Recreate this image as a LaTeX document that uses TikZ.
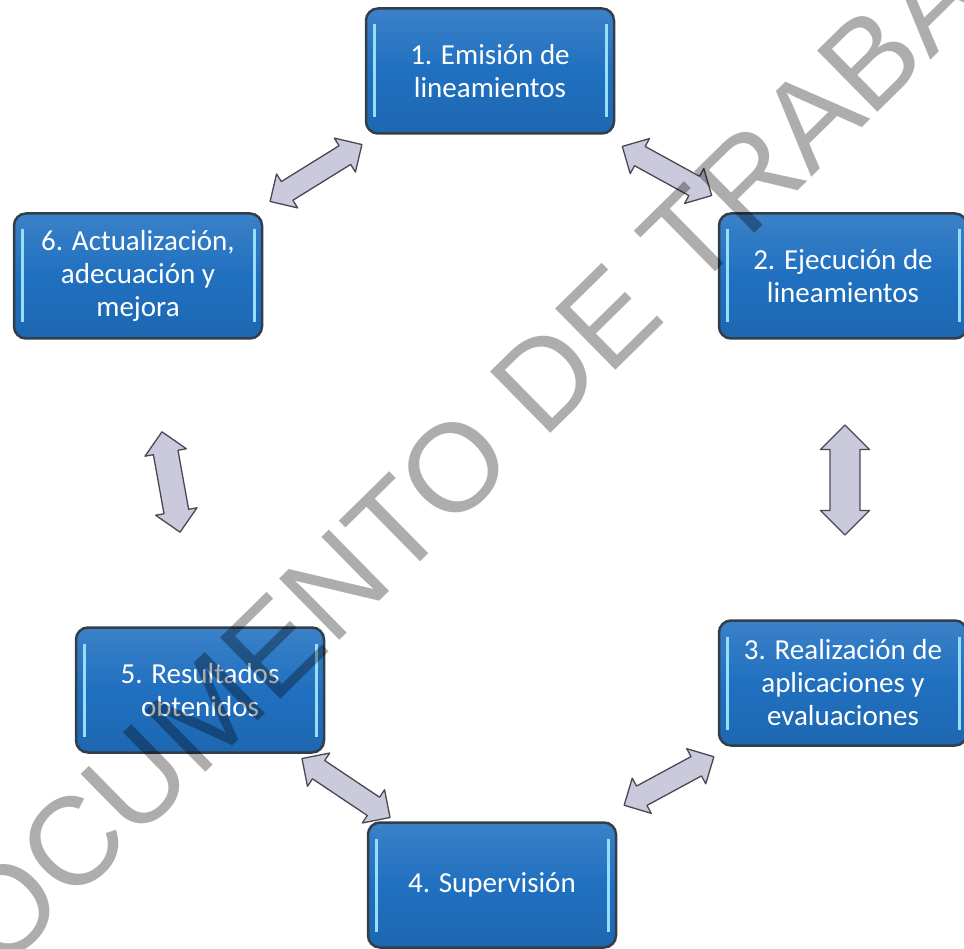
\documentclass[tikz,border=0pt]{standalone}
\usepackage{fontspec}
\setmainfont{Carlito}
\newfontfamily\markfont{Liberation Sans}
\usepackage{tikz}
\usetikzlibrary{calc}
\definecolor{boxblue}{RGB}{32,112,192}
\definecolor{boxedge}{RGB}{50,62,74}
\definecolor{boxstrip}{RGB}{150,222,250}
\definecolor{arrowfill}{RGB}{202,202,220}
\definecolor{arrowedge}{RGB}{72,72,84}
\tikzset{stage box/.style={
  draw=boxedge,
  line width=2.5,
  rounded corners=12,
  top color=boxblue!88!white,
  bottom color=boxblue!92!black,
  middle color=boxblue,
  text=white,
  align=center,
  minimum width=248,
  minimum height=125,
  font=\fontsize{29}{33}\selectfont,
  path picture={
    \draw[boxstrip,line width=3]
      ([xshift=8,yshift=-16]path picture bounding box.north west) --
      ([xshift=8,yshift=16]path picture bounding box.south west);
    \draw[boxstrip,line width=3]
      ([xshift=-8,yshift=-16]path picture bounding box.north east) --
      ([xshift=-8,yshift=16]path picture bounding box.south east);
    }
  }
}
\tikzset{duo arrow/.style={
  fill=arrowfill,
  draw=arrowedge,
  line width=1.3,
  line join=round
  }
}
\begin{document}
\begin{tikzpicture}[x=1pt,y=-1pt]
    \useasboundingbox (0,0) rectangle (964,949);
    \clip (0,0) rectangle (964,949);

    % the six stages
    \foreach \x/\y/\t [count=\n] in {490/71/{1. Emisión de\\lineamientos},
        843/276/{2. Ejecución de\\lineamientos},
        843/683/{3. Realización de\\aplicaciones y\\evaluaciones},
        492/885/{4. Supervisión},
        200/690/{5. Resultados\\obtenidos},
        138/276/{6. Actualización,\\adecuación y\\mejora}}
        \node[stage box] (S\n) at (\x,\y) {\t};

    % double arrows between the stages: centre, angle, length, head, shaft
    \foreach \cx/\cy/\ang/\len/\hb/\sw in {316/173/31.8/108/40/22,
        667/171/-28.8/102/40/22,
        845/480/90/110/49/30,
        669/781/28.4/102/40/22,
        346/788/-33.8/106/40/22,
        171/482/100.2/102/42/25}
        \draw[duo arrow,shift={(\cx,\cy)},rotate=\ang]
            (-\len/2,0) -- (-\len/2+\hb/2,\hb/2) -- (-\len/2+\hb/2,\sw/2)
            -- (\len/2-\hb/2,\sw/2) -- (\len/2-\hb/2,\hb/2) -- (\len/2,0)
            -- (\len/2-\hb/2,-\hb/2) -- (\len/2-\hb/2,-\sw/2)
            -- (-\len/2+\hb/2,-\sw/2) -- (-\len/2+\hb/2,-\hb/2) -- cycle;

    \node[font=\markfont\fontsize{125}{125}\selectfont,text=black,text opacity=0.32,
        inner sep=0,rotate=44.5] (mark) at (490,433) {DOCUMENTO DE TRABAJO};
\end{tikzpicture}
\end{document}
